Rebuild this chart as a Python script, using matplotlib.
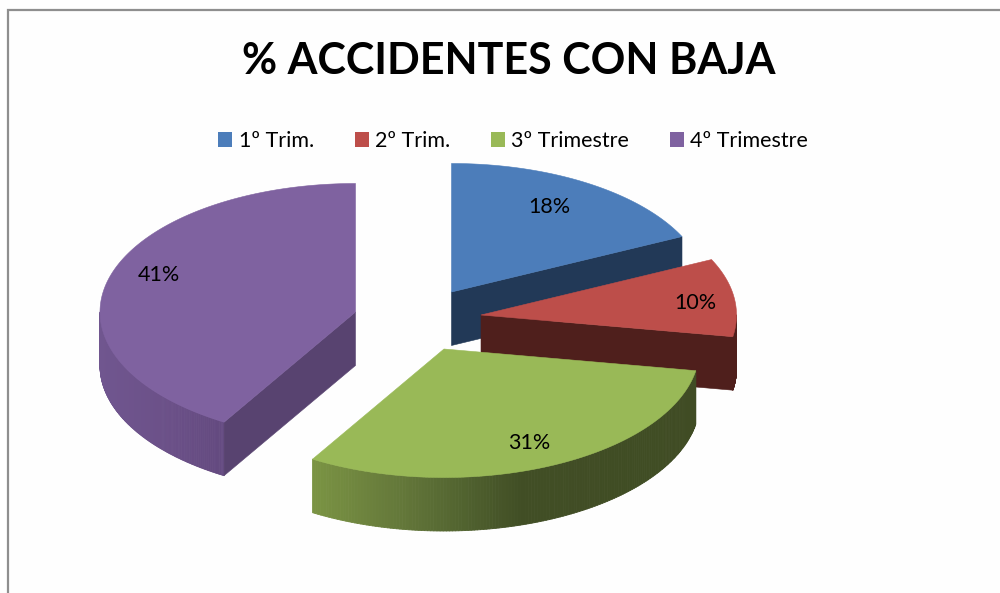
import numpy as np
import matplotlib
matplotlib.use("Agg")
import matplotlib.pyplot as plt
from matplotlib.collections import PolyCollection
from matplotlib.colors import to_rgb
from matplotlib.patches import Patch, Polygon

# ---- data ----
title = "% ACCIDENTES CON BAJA"
categories = ["1º Trim.", "2º Trim.", "3º Trimestre", "4º Trimestre"]
values = [17.9, 9.8, 30.9, 41.4]

# ---- style / layout ----
top_colors = ["#4c7dba", "#bd4e4a", "#99b957", "#7f62a0"]
cut_colors = ["#223957", "#4f1f1c", "#3f4a22", "#584370"]
rim_stops = [
    [(0, "#223957"), (1000, "#223957")],
    [(0, "#4f1f1c"), (1000, "#4f1f1c")],
    [(315, "#7a9343"), (400, "#64783a"), (460, "#526430"), (520, "#414e25"), (1000, "#3e4922")],
    [(99, "#70568f"), (170, "#6b5088"), (218, "#644a80"), (226, "#6a5088")],
]
centers = [(451.5, 292), (481, 315), (444, 349), (355.5, 312)]
label_offsets = [(98, -85), (214, -12), (85, 94), (-197, -37)]
A, B, DEPTH = 255.5, 128.5, 53.5
FONT = "Lato"

fig = plt.figure(figsize=(10, 5.93), dpi=100, facecolor="#fefefe")
ax = fig.add_axes([0, 0, 1, 1])
ax.set_xlim(0, 1000)
ax.set_ylim(593, 0)
ax.axis("off")

# chart frame (right and bottom edges fall outside the crop)
ax.plot([8, 8, 1000], [593, 9.5, 9.5], color="#8e8e8e", lw=1.6, solid_joinstyle="miter", zorder=1)


def point(c, theta, dz=0):
    return c[0] + A * np.sin(theta), c[1] - B * np.cos(theta) + dz


def rim_color(x, stops):
    xs = [s[0] for s in stops]
    rgb = np.array([to_rgb(s[1]) for s in stops])
    return [np.interp(x, xs, rgb[:, i]) for i in range(3)]


ends = np.cumsum(values) / np.sum(values) * 2 * np.pi
starts = np.concatenate([[0], ends[:-1]])

z = 2
for v, s, e, c, top, cut, stops, off in zip(values, starts, ends, centers, top_colors,
                                            cut_colors, rim_stops, label_offsets):
    # outer rim: only the part facing the viewer (90° .. 270°)
    lo, hi = max(s, np.pi / 2), min(e, 3 * np.pi / 2)
    if hi > lo:
        th = np.linspace(lo, hi, 160)
        polys, cols = [], []
        for t0, t1 in zip(th[:-1], th[1:]):
            polys.append([point(c, t0), point(c, t1), point(c, t1, DEPTH), point(c, t0, DEPTH)])
            cols.append(rim_color(point(c, (t0 + t1) / 2)[0], stops))
        ax.add_collection(PolyCollection(polys, facecolors=cols, edgecolors=cols,
                                         linewidths=0.6, zorder=z))
    # visible radial cut face
    cut_theta = None
    if s < np.pi / 2 and e < np.pi:          # blue / red: end cut faces the viewer
        cut_theta = e
    if s > np.pi and e > 3 * np.pi / 2 - 1:  # not visible for these slices
        cut_theta = None
    if s > np.pi / 2 and s < 3 * np.pi / 2 and e > 3 * np.pi / 2:  # purple: start cut
        cut_theta = s
    if cut_theta is not None:
        pe = point(c, cut_theta)
        ax.add_patch(Polygon([c, pe, (pe[0], pe[1] + DEPTH), (c[0], c[1] + DEPTH)],
                             closed=True, fc=cut, ec=cut, lw=0.4, zorder=z))
    # top face
    th = np.linspace(s, e, 200)
    xs, ys = point(c, th)
    ax.fill(np.r_[c[0], xs], np.r_[c[1], ys], fc=top, ec=top, lw=0.4, zorder=z + 0.5)
    # data label
    ax.text(c[0] + off[0], c[1] + off[1], f"{v:.0f}%", ha="center", va="center",
            fontsize=15.5, family=FONT, color="black", zorder=20)
    z += 1

# title
ax.text(509, 60.5, title, ha="center", va="center", fontsize=31, fontweight="bold",
        family=FONT, color="black", zorder=20)

# legend
handles = [Patch(fc=col, ec="none", label=lab) for col, lab in zip(top_colors, categories)]
ax.legend(handles=handles, ncol=4, loc="center", bbox_to_anchor=(513, 141),
          bbox_transform=ax.transData, frameon=False,
          prop={"family": FONT, "size": 15.5}, handlelength=0.65, handleheight=0.65,
          handletextpad=0.28, columnspacing=1.9, borderpad=0, borderaxespad=0)

fig.savefig("out.png", dpi=100, facecolor=fig.get_facecolor())
